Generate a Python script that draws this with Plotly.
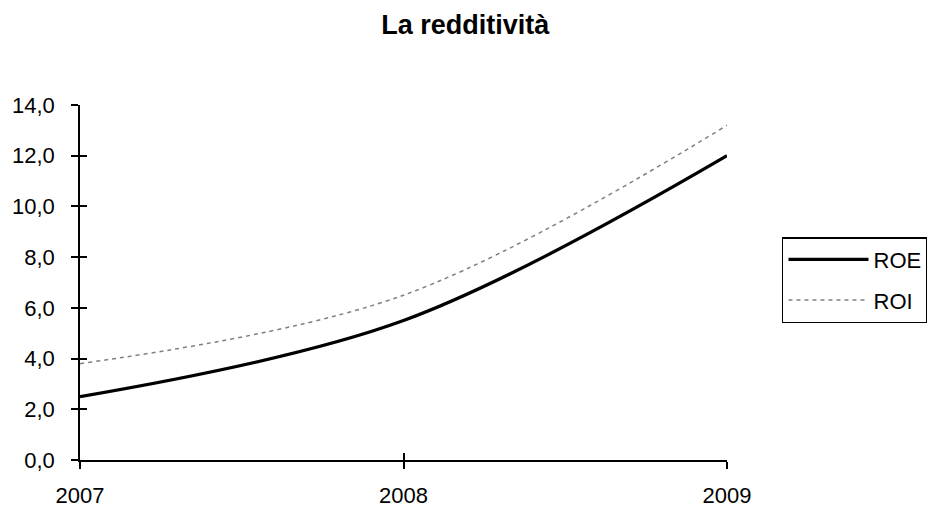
import plotly.graph_objects as go

years = [2007, 2008, 2009]
roe = [2.5, 5.5, 12.0]
roi = [3.8, 6.5, 13.2]
y_ticks = [0, 2, 4, 6, 8, 10, 12, 14]
title_text = "La redditività"

FONT = "Liberation Sans, Arial, sans-serif"

fig = go.Figure()
fig.add_trace(go.Scatter(
    x=years, y=roe, name="ROE", mode="lines", legendgroup="a",
    line=dict(color="black", width=3.2, shape="spline", smoothing=1.0),
))
fig.add_trace(go.Scatter(
    x=years, y=roi, name="ROI", mode="lines", legendgroup="b",
    line=dict(color="#808080", width=1.5, dash="4px,4px", shape="spline", smoothing=1.0),
))
# helper trace so the overlaid axes (inner half of the crossing ticks) are drawn
fig.add_trace(go.Scatter(
    x=[years[0]], y=[y_ticks[0]], xaxis="x2", yaxis="y2", mode="markers",
    marker=dict(opacity=0), showlegend=False, hoverinfo="skip",
))

tick_style = dict(tickcolor="black", tickwidth=1.5, ticklen=7)

fig.update_layout(
    width=935, height=508,
    margin=dict(l=72, r=216, t=97, b=56, autoexpand=False),
    paper_bgcolor="white", plot_bgcolor="white",
    separators=",.",
    font=dict(family=FONT, size=22, color="black"),
    title=dict(text="<b>" + title_text + "</b>", x=0.489, xanchor="center",
               y=1 - 17 / 508, yanchor="middle",
               font=dict(family=FONT, size=27, color="black")),
    showlegend=True,
    legend=dict(x=1.085, xanchor="left", y=0.628, yanchor="top",
                bordercolor="black", borderwidth=1.5, bgcolor="white",
                font=dict(family=FONT, size=22, color="black"),
                itemwidth=80, tracegroupgap=9),
    xaxis=dict(range=[2007, 2009], tickvals=years, ticktext=[str(y) for y in years],
               showgrid=False, zeroline=False, showline=True, linecolor="black",
               linewidth=1.5, ticks="outside", automargin=False,
               ticklabelstandoff=8, tickfont=dict(family=FONT, size=22), **tick_style),
    yaxis=dict(range=[0, 14], tickvals=y_ticks, tickformat=".1f",
               showgrid=False, zeroline=False, showline=True, linecolor="black",
               linewidth=1.5, ticks="outside", automargin=False,
               ticklabelstandoff=12, tickfont=dict(family=FONT, size=22), **tick_style),
    xaxis2=dict(overlaying="x", anchor="y2", range=[2007, 2009], tickvals=years,
                side="bottom", showticklabels=False, showgrid=False, zeroline=False,
                showline=False, ticks="inside", automargin=False, **tick_style),
    yaxis2=dict(overlaying="y", anchor="x2", range=[0, 14], tickvals=y_ticks,
                side="left", showticklabels=False, showgrid=False, zeroline=False,
                showline=False, ticks="inside", automargin=False, **tick_style),
)

fig.write_html("out.html")
